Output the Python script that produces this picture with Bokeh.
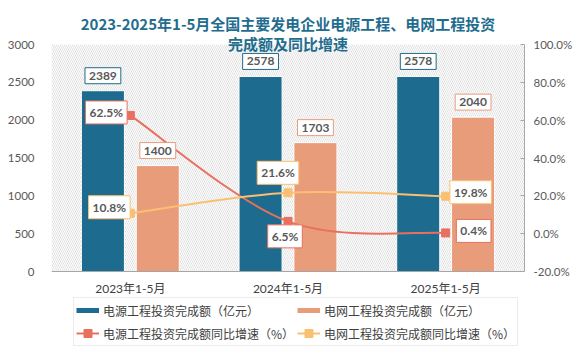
import math
from bokeh.plotting import figure
from bokeh.models import (FactorRange, Range1d, LinearAxis, FixedTicker, PrintfTickFormatter,
                          Label, Legend, LegendItem, BoxAnnotation, ColumnDataSource, Span)
from bokeh.transform import dodge
from bokeh.embed import file_html
from bokeh.resources import INLINE

# ---------------- data ----------------
categories = ["2023年1-5月", "2024年1-5月", "2025年1-5月"]
source_invest = [2389, 2578, 2578]      # 电源工程投资完成额（亿元）
grid_invest = [1400, 1703, 2040]        # 电网工程投资完成额（亿元）
source_growth = [62.5, 6.5, 0.4]        # 电源工程投资完成额同比增速（%）
grid_growth = [10.8, 21.6, 19.8]        # 电网工程投资完成额同比增速（%）
series_names = ["电源工程投资完成额（亿元）", "电网工程投资完成额（亿元）",
                "电源工程投资完成额同比增速（%）", "电网工程投资完成额同比增速（%）"]
left_ticks = [0, 500, 1000, 1500, 2000, 2500, 3000]
right_ticks = [-20, 0, 20, 40, 60, 80, 100]
title_lines = ["2023-2025年1-5月全国主要发电企业电源工程、电网工程投资", "完成额及同比增速"]

# ---------------- styles / layout ----------------
C_SRC = "#1d6b8f"
C_GRID = "#e89c7a"
C_SRC_L = "#e8705e"
C_GRID_L = "#fbbf72"
TXT = "#595959"
NUM_FONT = "Lato, Noto Sans CJK SC"
CJK_FONT = "Noto Sans CJK SC"

W, H = 579, 351
PLOT_H = 227          # px height of the value area
HEAD = 44             # px above the value area (title)
FOOT = 80             # px below the value area (category labels + legend)
LEFT_MAX, PCT_MIN, PCT_MAX = 3000, -20, 100

BAR_W = 0.273
BAR_OFF = 0.174
src_lbl_off = [(-24, 3), (-3, -15), (28, 2)]
grid_lbl_off = [(-21, 6), (-10, 20), (25, 4)]

src = ColumnDataSource(dict(cat=categories, s=source_invest, g=grid_invest,
                            sg=source_growth, gg=grid_growth))

lu = LEFT_MAX / PLOT_H
pu = (PCT_MAX - PCT_MIN) / PLOT_H
p = figure(width=W, height=H, x_range=FactorRange(*categories),
           y_range=Range1d(-FOOT * lu, LEFT_MAX + HEAD * lu),
           output_backend="svg", toolbar_location=None,
           min_border_left=51, min_border_right=55, min_border_top=0, min_border_bottom=0)
p.extra_y_ranges = {"pct": Range1d(PCT_MIN - FOOT * pu, PCT_MAX + HEAD * pu)}
p.outline_line_color = None
p.xgrid.grid_line_color = None
p.ygrid.grid_line_color = None
p.xaxis.visible = False
p.background_fill_color = "white"
p.border_fill_color = "white"

# hatched plot background
p.add_layout(BoxAnnotation(bottom=0, top=LEFT_MAX, fill_color="white", fill_alpha=1.0,
                           line_color=None, hatch_pattern="left_diagonal_line",
                           hatch_color="#d4d4d4", hatch_scale=4, hatch_weight=0.7,
                           level="underlay"))
p.add_layout(Span(location=0, dimension="width", line_color="#a6a6a6", line_width=1))

# bars
p.vbar(x=dodge("cat", -BAR_OFF, range=p.x_range), top="s", width=BAR_W, source=src,
       fill_color=C_SRC, line_color="white", line_width=1)
p.vbar(x=dodge("cat", BAR_OFF, range=p.x_range), top="g", width=BAR_W, source=src,
       fill_color=C_GRID, line_color="white", line_width=1)

# smooth lines (bezier through the data points)
def smooth(ys):
    n = len(ys)
    xs = [i + 0.5 for i in range(n)]
    x0, y0, x1, y1, cx0, cy0, cx1, cy1 = [], [], [], [], [], [], [], []
    for i in range(n - 1):
        im1 = max(i - 1, 0)
        ip2 = min(i + 2, n - 1)
        x0.append(xs[i]); y0.append(ys[i]); x1.append(xs[i + 1]); y1.append(ys[i + 1])
        cx0.append(xs[i] + (xs[i + 1] - xs[im1]) / 6.0)
        cy0.append(ys[i] + (ys[i + 1] - ys[im1]) / 6.0)
        cx1.append(xs[i + 1] - (xs[ip2] - xs[i]) / 6.0)
        cy1.append(ys[i + 1] - (ys[ip2] - ys[i]) / 6.0)
    return dict(x0=x0, y0=y0, x1=x1, y1=y1, cx0=cx0, cy0=cy0, cx1=cx1, cy1=cy1)

for ys, col in ((source_growth, C_SRC_L), (grid_growth, C_GRID_L)):
    p.bezier(source=ColumnDataSource(smooth(ys)), x0="x0", y0="y0", x1="x1", y1="y1",
             cx0="cx0", cy0="cy0", cx1="cx1", cy1="cy1", line_color=col, line_width=2,
             y_range_name="pct")

m_src = p.scatter(x="cat", y="sg", source=src, marker="square", size=8, fill_color=C_SRC_L,
                  line_color=C_SRC_L, y_range_name="pct")
m_grid = p.scatter(x="cat", y="gg", source=src, marker="square", size=8, fill_color=C_GRID_L,
                   line_color=C_GRID_L, y_range_name="pct")

# axes
p.yaxis.ticker = FixedTicker(ticks=left_ticks)
p.yaxis.axis_line_color = None
p.yaxis.major_tick_line_color = None
p.yaxis.minor_tick_line_color = None
p.yaxis.major_label_standoff = 11
p.yaxis.major_label_text_font = NUM_FONT
p.yaxis.major_label_text_font_size = "11.5px"
p.yaxis.major_label_text_color = TXT

ax_r = LinearAxis(y_range_name="pct", ticker=FixedTicker(ticks=right_ticks),
                  formatter=PrintfTickFormatter(format="%.1f%%"), bounds=(PCT_MIN, PCT_MAX))
ax_r.axis_line_color = "#a6a6a6"
ax_r.major_tick_line_color = "#a6a6a6"
ax_r.major_tick_in = 4
ax_r.major_tick_out = 0
ax_r.minor_tick_line_color = None
ax_r.major_label_standoff = 9
ax_r.major_label_text_font = NUM_FONT
ax_r.major_label_text_font_size = "11.5px"
ax_r.major_label_text_color = TXT
p.add_layout(ax_r, "right")

# category labels under the value area
for i, c in enumerate(categories):
    p.add_layout(Label(x=i + 0.5, y=0, text=c, y_offset=-17, text_align="center",
                       text_baseline="middle", text_font=NUM_FONT, text_font_size="12px",
                       text_color="#404040"))

# value labels
def box_label(x, y, text, col, dx, dy, rng="default"):
    p.add_layout(Label(x=x, y=y, text=text, x_offset=dx, y_offset=dy, y_range_name=rng,
                       text_align="center", text_baseline="middle",
                       text_font=NUM_FONT, text_font_style="bold", text_font_size="12px",
                       text_color=TXT, background_fill_color="white", background_fill_alpha=1.0,
                       border_line_color=col, border_line_width=1, padding=4))

for i, c in enumerate(categories):
    box_label(i + 0.5 - BAR_OFF, source_invest[i], str(source_invest[i]), C_SRC, 0, 15)
    box_label(i + 0.5 + BAR_OFF, grid_invest[i], str(grid_invest[i]), C_GRID, 0, 15)
    box_label(i + 0.5, source_growth[i], f"{source_growth[i]:.1f}%", C_SRC_L,
              src_lbl_off[i][0], src_lbl_off[i][1], "pct")
    box_label(i + 0.5, grid_growth[i], f"{grid_growth[i]:.1f}%", C_GRID_L,
              grid_lbl_off[i][0], grid_lbl_off[i][1], "pct")

# title (inside the frame headroom)
for t, yy in zip(title_lines, (H - 23, H - 43)):
    p.add_layout(Label(x=236.5, y=yy, x_units="screen", y_units="screen", text=t,
                       text_align="center", text_baseline="middle", text_font=CJK_FONT,
                       text_font_style="bold", text_font_size="15px", text_color="#1f6d8e"))

# legend (swatch renderers without visible data)
nan3 = [math.nan] * len(categories)
r_bar1 = p.line(x=categories, y=nan3, line_color=C_SRC, line_width=5)
r_bar2 = p.line(x=categories, y=nan3, line_color=C_GRID, line_width=5)
r_l1 = p.line(x=categories, y=nan3, line_color=C_SRC_L, line_width=2)
r_l2 = p.line(x=categories, y=nan3, line_color=C_GRID_L, line_width=2)
legend = Legend(items=[LegendItem(label=series_names[0], renderers=[r_bar1]),
                       LegendItem(label=series_names[2], renderers=[r_l1, m_src]),
                       LegendItem(label=series_names[1], renderers=[r_bar2]),
                       LegendItem(label=series_names[3], renderers=[r_l2, m_grid])],
                ncols=2, location=(22, 5),
                label_text_font=CJK_FONT, label_text_font_size="12px",
                label_text_color="#404040", glyph_width=23, glyph_height=20,
                label_height=20, label_width=189, label_standoff=4, spacing=3, padding=2,
                margin=0, border_line_color="#d9d9d9", background_fill_color="white",
                background_fill_alpha=1.0)
p.add_layout(legend, "center")

open("out.html", "w").write(file_html(p, INLINE))
